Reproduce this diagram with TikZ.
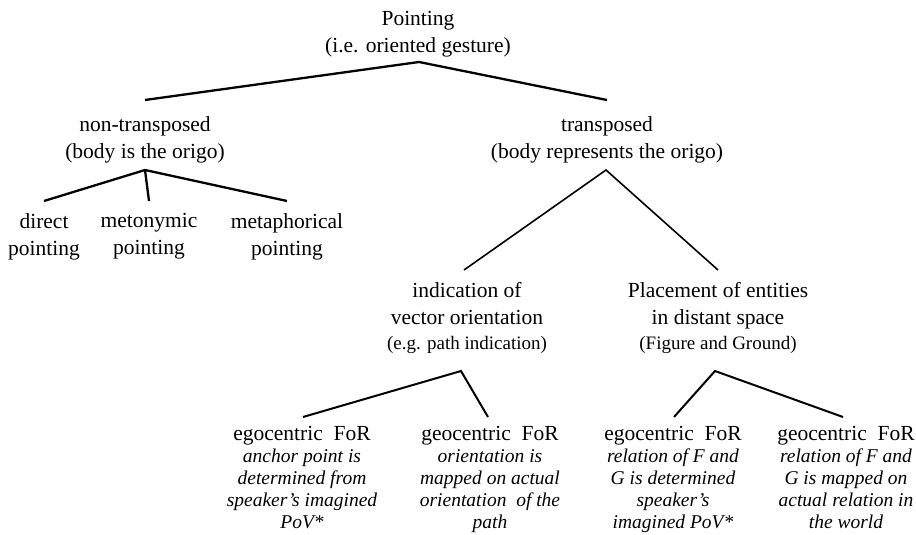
\documentclass[tikz,border=0pt]{standalone}
\usepackage{fontspec}
\setmainfont{Liberation Serif}
\begin{document}
\begin{tikzpicture}[x=1pt,y=-1pt,
  mainlbl/.style={inner sep=0pt,align=center,anchor=north,font=\fontsize{21.5}{27}\selectfont,execute at begin node=\vphantom{Pl}},
  headlbl/.style={inner sep=0pt,anchor=base,font=\fontsize{21.5}{27}\selectfont},
  sublbl/.style={inner sep=0pt,anchor=base,font=\fontsize{19}{22}\selectfont},
  desclbl/.style={inner sep=0pt,align=center,anchor=north,font=\fontsize{19.5}{22}\selectfont\itshape,execute at begin node=\vphantom{Pl}},
  thickedge/.style={line width=2.3pt},
  thinedge/.style={line width=1.6pt},
  midedge/.style={line width=2pt}]
\useasboundingbox (0,0) rectangle (916,535);
% nodes
\node[mainlbl] (root) at (418,11) {Pointing\\(i.e. oriented gesture)};
\node[mainlbl] (nt) at (145,116) {non-transposed\\(body is the origo)};
\node[mainlbl] (tr) at (607,116) {transposed\\(body represents the origo)};
\node[mainlbl] (direct) at (44,213) {direct\\pointing};
\node[mainlbl] (meto) at (149,213) {metonymic\\pointing};
\node[mainlbl] (meta) at (287,213) {metaphorical\\pointing};
\node[mainlbl] (vec) at (467,282) {indication of\\vector orientation};
\node[sublbl] (vecsub) at (467,349) {(e.g. path indication)};
\node[mainlbl] (place) at (718,282) {Placement of entities\\in distant space};
\node[sublbl] (placesub) at (718,349) {(Figure and Ground)};
\node[headlbl] (egoA) at (302,440) {egocentric\ \ FoR};
\node[desclbl] (egoAd) at (302,449) {anchor point is\\determined from\\speaker’s imagined\\PoV*};
\node[headlbl] (geoA) at (490,440) {geocentric\ \ FoR};
\node[desclbl] (geoAd) at (490,449) {orientation is\\mapped on actual\\orientation\ \ of the\\path};
\node[headlbl] (egoB) at (673,440) {egocentric\ \ FoR};
\node[desclbl] (egoBd) at (673,449) {relation of F and\\G is determined\\speaker’s\\imagined PoV*};
\node[headlbl] (geoB) at (846,440) {geocentric\ \ FoR};
\node[desclbl] (geoBd) at (846,449) {relation of F and\\G is mapped on\\actual relation in\\the world};
% junction coordinates
\coordinate (rootJ) at (419,62);
\coordinate (ntIn) at (145,100);
\coordinate (trIn) at (607,100);
\coordinate (ntJ) at (145,170);
\coordinate (directIn) at (44,201);
\coordinate (metoIn) at (149,201);
\coordinate (metaIn) at (287,201);
\coordinate (trJ) at (606,170);
\coordinate (vecIn) at (464,270);
\coordinate (placeIn) at (718,270);
\coordinate (vecJ) at (461,371);
\coordinate (egoAIn) at (303,417);
\coordinate (geoAIn) at (488,417);
\coordinate (placeJ) at (715,371);
\coordinate (egoBIn) at (674,417);
\coordinate (geoBIn) at (843,417);
% connectors
\draw[thickedge] (ntIn) -- (rootJ) -- (trIn);
\draw[thickedge] (directIn) -- (ntJ) -- (metaIn);
\draw[thickedge] (ntJ) -- (metoIn);
\draw[thinedge] (vecIn) -- (trJ) -- (placeIn);
\draw[midedge] (egoAIn) -- (vecJ) -- (geoAIn);
\draw[midedge] (egoBIn) -- (placeJ) -- (geoBIn);
\end{tikzpicture}
\end{document}
